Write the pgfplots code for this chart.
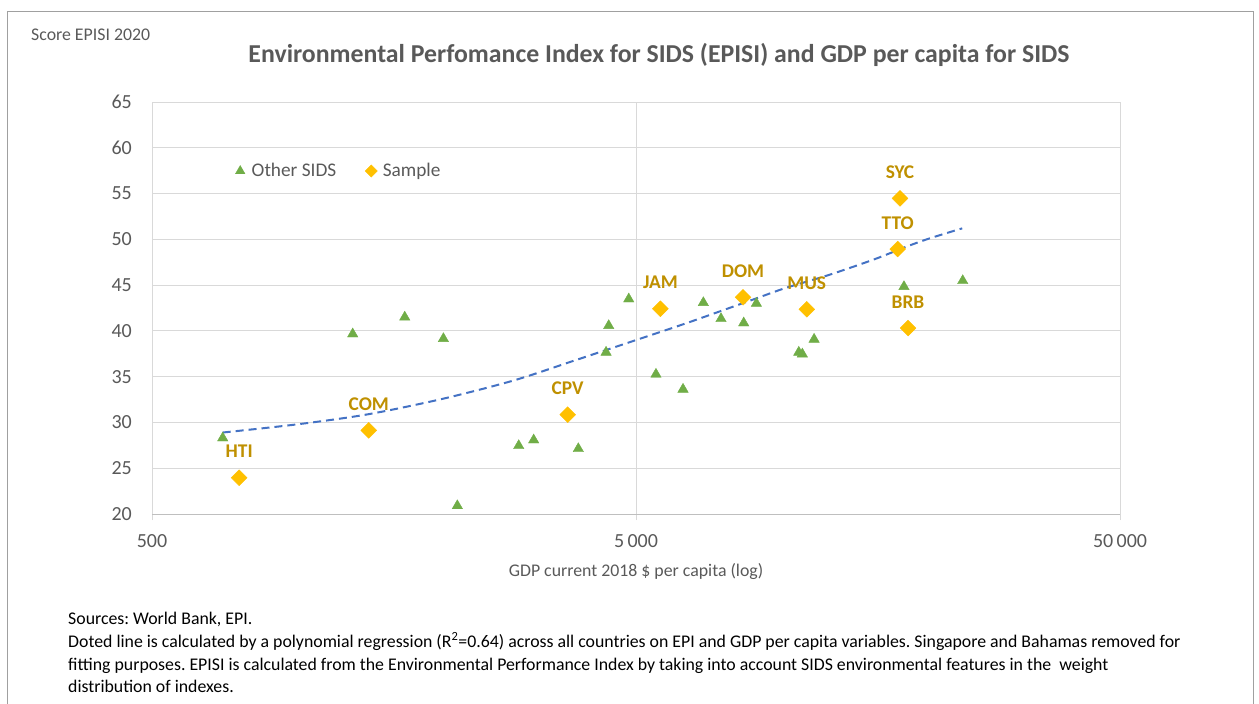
\documentclass[border=0pt]{standalone}
\usepackage{fontspec}
\setmainfont{Carlito}
\usepackage{pgfplots}
\usepackage{pgfplotstable}
\pgfplotsset{compat=1.18}
\frenchspacing
\definecolor{gridgray}{HTML}{D9D9D9}
\definecolor{axisgray}{HTML}{BFBFBF}
\definecolor{txtgray}{HTML}{595959}
\definecolor{framegray}{HTML}{A0A0A0}
\definecolor{trigreen}{HTML}{70AD47}
\definecolor{diagold}{HTML}{FFC000}
\definecolor{labgold}{HTML}{BF9000}
\definecolor{trendblue}{HTML}{4472C4}
\pgfplotsset{myleg/.style={legend image code/.code={\path[draw=none] (-9.5pt,0pt) (9.5pt,0pt);\draw[##1] plot coordinates {(0pt,0pt)};}}}

\pgfplotstableread{
x y
700 28.3
1299 39.66
1664 41.5
2000 39.15
2137 20.9
2862 27.46
3073 28.08
3800 27.13
4391 40.57
4336 37.66
4830 43.48
5498 35.26
6253 33.62
6888 43.08
7493 41.33
8346 40.86
8865 43.0
10846 37.66
11031 37.47
11665 39.08
17889 44.83
23660 45.48
}\othersids

\pgfplotstableread{
x y label
757 23.96 HTI
1402 29.14 COM
3613 30.85 CPV
5614 42.42 JAM
8318 43.67 DOM
11265 42.36 MUS
18238 40.31 BRB
17557 54.48 SYC
17364 48.94 TTO
}\sample

\pgfplotstableread{
x y
700 28.9
1000 29.8
1400 30.9
2000 32.6
2800 34.6
3700 36.7
5000 39.0
6400 40.9
8700 43.4
10200 44.7
12500 46.1
15500 47.8
18100 49.2
20200 50.1
23600 51.2
}\trend

\begin{document}
\begin{tikzpicture}
\path[use as bounding box] (0pt,0pt) rectangle (1259pt,-704pt);
\draw[framegray, line width=1pt] (7pt,-704pt) -- (7pt,-11pt) -- (1253pt,-11pt) -- (1253pt,-704pt);
\node[anchor=base west, inner sep=0pt, text=txtgray, font=\fontsize{17.8}{19}\selectfont] at (31pt,-40pt) {Score EPISI 2020};
\node[anchor=base, inner sep=0pt, text=txtgray, font=\fontsize{25.8}{28}\selectfont\bfseries] at (659pt,-62pt) {Environmental Perfomance Index for SIDS (EPISI) and GDP per capita for SIDS};

\begin{axis}[
  at={(152pt,-514pt)}, anchor=south west,
  scale only axis, width=968pt, height=412pt,
  xmode=log, xmin=500, xmax=50000, ymin=20, ymax=65,
  xtick={500,5000,50000}, xticklabels={500,5\,000,50\,000},
  ytick={20,25,...,65},
  /pgf/number format/assume math mode=true,
  grid=major, major grid style={draw=gridgray, line width=1pt},
  axis line style={draw=none},
  xtick pos=bottom, ytick pos=left,
  tick align=outside, major tick length=6pt,
  xtick style={draw=gridgray, line width=1pt},
  ytick style={draw=none},
  xminorticks=false,
  ticklabel style={text=txtgray, font=\fontsize{20}{22}\selectfont},
  yticklabel style={anchor=east, inner sep=0pt, xshift=-14pt},
  xticklabel style={anchor=base, yshift=-27pt},
  xlabel={GDP current 2018 \$ per capita (log)},
  xlabel style={at={(axis description cs:0.5,0)}, anchor=base, yshift=-62pt, text=txtgray, font=\fontsize{17.8}{19}\selectfont},
  clip=false,
  legend columns=2,
  legend style={draw=none, fill=none, at={(0.078,0.8325)}, anchor=west, text=txtgray, font=\fontsize{19.3}{21}\selectfont, /tikz/every even column/.append style={column sep=23.5pt}},
]
\draw[axisgray, line width=1pt] (rel axis cs:0,0) -- (rel axis cs:1,0);
\addplot[only marks, myleg, mark=triangle*, mark size=6pt, draw=trigreen, fill=trigreen,
  legend image post style={mark size=5.5pt}] table[x=x,y=y] {\othersids};
\addlegendentry{Other SIDS}
\addplot[only marks, myleg, mark=square*, mark size=5.6pt, mark options={rotate=45, draw=diagold, fill=diagold},
  legend image post style={mark size=4.3pt},
  nodes near coords, point meta=explicit symbolic,
  nodes near coords style={anchor=base, yshift=20pt, inner sep=0pt, text=labgold, font=\fontsize{19.4}{21}\selectfont\bfseries}]
  table[x=x,y=y,meta=label] {\sample};
\addlegendentry{Sample}
\addplot[forget plot, smooth, draw=trendblue, line width=2pt, dash pattern=on 8pt off 5pt] table[x=x,y=y] {\trend};
\end{axis}

\begin{scope}[every node/.style={anchor=base west, inner sep=0pt, font=\fontsize{17.8}{19}\selectfont}]
\node at (68pt,-624pt) {Sources: World Bank, EPI.};
\node at (68pt,-647pt) {Doted line is calculated by a polynomial regression (R\textsuperscript{2}=0.64) across all countries on EPI and GDP per capita variables. Singapore and Bahamas removed for};
\node at (68pt,-670pt) {fitting purposes. EPISI is calculated from the Environmental Performance Index by taking into account SIDS environmental features in the\ \ weight};
\node at (68pt,-692pt) {distribution of indexes.};
\end{scope}
\end{tikzpicture}
\end{document}
